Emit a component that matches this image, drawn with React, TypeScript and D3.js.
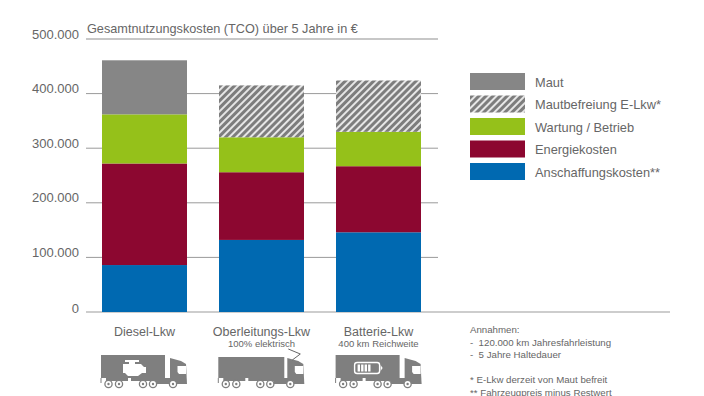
import React from "react";
import * as d3 from "d3";

const categories = ["Diesel-Lkw", "Oberleitungs-Lkw", "Batterie-Lkw"];
const subtitles = ["", "100% elektrisch", "400 km Reichweite"];
const anschaffung = [86000, 132000, 146000];
const energie = [186000, 124000, 121000];
const wartung = [90000, 64000, 63000];
const maut = [99000, 0, 0];
const mautbefreiung = [0, 95000, 94000];
const yTicks = [0, 100000, 200000, 300000, 400000, 500000];
const seriesKeys = ["anschaffung", "energie", "wartung", "maut", "mautbefreiung"];
const seriesValues: Record<string, number[]> = { anschaffung, energie, wartung, maut, mautbefreiung };
const legendLabels = ["Maut", "Mautbefreiung E-Lkw*", "Wartung / Betrieb", "Energiekosten", "Anschaffungskosten**"];
const legendKeys = ["maut", "mautbefreiung", "wartung", "energie", "anschaffung"];
const notes = ["Annahmen:", "-\u00a0\u00a0120.000 km Jahresfahrleistung", "-\u00a0\u00a05 Jahre Haltedauer", "", "* E-Lkw derzeit von Maut befreit", "** Fahrzeugpreis minus Restwert"];
const title = "Gesamtnutzungskosten (TCO) über 5 Jahre in €";

const colors: Record<string, string> = {
  maut: "#868686",
  mautbefreiung: "url(#hatch)",
  wartung: "#95c11a",
  energie: "#8c0730",
  anschaffung: "#0069b1",
};
const TEXT = "#666666";
const FONT = "'Liberation Sans', Arial, sans-serif";

const rows = categories.map((c, i) => {
  const r: Record<string, number | string> = { c };
  seriesKeys.forEach((k) => (r[k] = seriesValues[k][i]));
  return r;
});
const stacked = d3.stack<any>().keys(seriesKeys)(rows);

const y = d3.scaleLinear().domain([0, 500000]).range([312, 39]);
const x = d3.scaleBand().domain(categories).range([102, 421]).paddingInner(0.2735).paddingOuter(0);
const fmt = (v: number) => (v === 0 ? "0" : d3.format(",")(v).replace(/,/g, "."));

function Truck({ dx, kind }: { dx: number; kind: number }) {
  const g = "#7f7f7f";
  const wheels = [7.5, 18, 42, 52, 72];
  return (
    <g transform={`translate(${dx},355)`}>
      <rect x={0} y={kind === 1 ? 2 : 0} width={kind === 1 ? 66 : 64} height={kind === 1 ? 21 : 23} fill={g} />
      <path d="M0,23V28" stroke={g} strokeWidth={1} />
      <rect x={5} y={23} width={22} height={3} fill={g} />
      <rect x={30} y={23} width={40} height={3} fill={g} />
      <rect x={55} y={25} width={20} height={4} fill={g} />
      <path d="M69,3 L80,6 L85,9 L86,29 L69,29 Z" fill={g} />
      <path d="M76.5,11 H85 V19 H78 L76.5,17 Z" fill="#fff" />
      {wheels.map((w) => (
        <g key={w}>
          <circle cx={w} cy={29} r={3.6} fill="#fff" stroke={g} strokeWidth={1.3} />
          <circle cx={w} cy={29} r={1.2} fill={g} />
        </g>
      ))}
      {kind === 0 && (
        <path d="M22,9 H28 V7 H24 V5 H38 V7 H34 V9 H40 L43,12 H45 V18 H41 L37,21 H27 L24,18 H22 Z" fill="#fff" />
      )}
      {kind === 1 && (
        <path d="M74,5 L82,-1 L70,-6" fill="none" stroke="#666" strokeWidth={1} />
      )}
      {kind === 2 && (
        <g>
          <rect x={19} y={7.5} width={25} height={11} rx={2.5} fill={g} stroke="#fff" strokeWidth={1.4} />
          <path d="M45,10 L47,13 L45,16 Z" fill="#fff" />
          {[22, 25.5, 29, 32.5].map((b) => (
            <rect key={b} x={b} y={9.5} width={2.4} height={7} fill="#fff" />
          ))}
        </g>
      )}
    </g>
  );
}

export default function App() {
  return (
    <svg
      width={704}
      height={396}
      style={{ position: "absolute", left: 0, top: 0, background: "#fff" }}
      fontFamily={FONT}
    >
      <defs>
        <pattern id="hatch" width={5} height={5} patternUnits="userSpaceOnUse" patternTransform="rotate(45)">
          <rect width={5} height={5} fill="#e6e6e6" />
          <rect width={3} height={5} fill="#7d7d7d" />
        </pattern>
      </defs>

      <text x={87} y={33} fontSize={12.7} fill={TEXT}>{title}</text>

      {yTicks.map((t) => (
        <g key={t}>
          <line
            x1={86}
            x2={t === 0 ? 670 : 438}
            y1={y(t)}
            y2={y(t)}
            stroke={t === 0 ? "#bdbdbd" : t === 500000 ? "#b5b5b5" : "#9a9a9a"}
            strokeWidth={t === 0 || t === 500000 ? 1.5 : 1}
          />
          <text x={79} y={t === 0 ? y(t) + 1 : y(t) - 0.5} textAnchor="end" fontSize={13} fill={TEXT}>{fmt(t)}</text>
        </g>
      ))}

      {stacked.map((s) =>
        s.map((d, i) => {
          const h = y(d[0]) - y(d[1]);
          if (h <= 0) return null;
          return (
            <rect
              key={s.key + i}
              x={x(categories[i])}
              y={y(d[1])}
              width={x.bandwidth()}
              height={h}
              fill={colors[s.key]}
            />
          );
        })
      )}

      {categories.map((c, i) => (
        <g key={c}>
          <text x={x(c)! + x.bandwidth() / 2} y={336} textAnchor="middle" fontSize={12.5} fill={TEXT}>{c}</text>
          {subtitles[i] && (
            <text x={x(c)! + x.bandwidth() / 2} y={347} textAnchor="middle" fontSize={9.5} fill={TEXT}>{subtitles[i]}</text>
          )}
          <Truck dx={101 + i * 117.3} kind={i} />
        </g>
      ))}

      {legendKeys.map((k, i) => (
        <g key={k}>
          <rect x={470} y={73 + i * 22.5} width={55} height={17} fill={colors[k]} />
          <text x={535} y={86.5 + i * 22.5} fontSize={12.8} fill={TEXT}>{legendLabels[i]}</text>
        </g>
      ))}

      {notes.map((n, i) => (
        <text key={i} x={470} y={333 + i * 12.5} fontSize={9.7} fill={TEXT}>{n}</text>
      ))}
    </svg>
  );
}
